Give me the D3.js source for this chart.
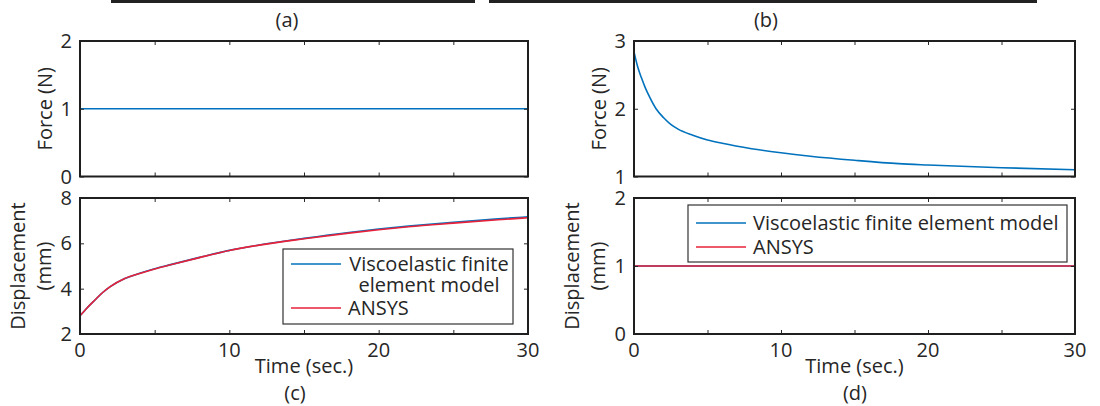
<!DOCTYPE html>
<html>
<head>
<meta charset="utf-8">
<script src="https://cdn.jsdelivr.net/npm/d3@7"></script>
<style>
  body { margin: 0; background: #fff; }
  svg text { font-family: "Open Sans", "Noto Sans", sans-serif; fill: #262626; }
</style>
</head>
<body>
<div id="chart"></div>
<script>
// ---- data ----
var timeConst = [0, 30];
var forceA = [1, 1];                 // (a) constant force
var dispD = [1, 1];                  // (d) constant displacement

var timeB = [0, 0.25, 0.5, 0.75, 1, 1.5, 2, 2.5, 3, 4, 5, 6, 8, 10, 12, 15, 18, 20, 25, 30];
var forceB = [2.84, 2.62, 2.46, 2.32, 2.2, 2.0, 1.87, 1.77, 1.70, 1.61, 1.54, 1.49, 1.41, 1.35, 1.30, 1.24, 1.19, 1.17, 1.13, 1.10];

var timeC = [0, 0.5, 1, 1.5, 2, 3, 4, 5, 6, 8, 10, 12, 15, 18, 20, 22, 25, 28, 30];
var dispC_fem = [2.8, 3.17, 3.5, 3.82, 4.08, 4.45, 4.68, 4.88, 5.05, 5.38, 5.69, 5.93, 6.22, 6.48, 6.63, 6.76, 6.93, 7.08, 7.17];
var dispC_ansys = [2.8, 3.17, 3.5, 3.82, 4.08, 4.45, 4.67, 4.87, 5.04, 5.37, 5.68, 5.92, 6.2, 6.45, 6.6, 6.73, 6.89, 7.04, 7.13];

var seriesNames = ["Viscoelastic finite element model", "ANSYS"];
var xTicks = [0, 10, 20, 30];
var xMinor = [0, 5, 10, 15, 20, 25, 30];

var blue = "#0072bd", red = "#e8213a";
var fontSize = "20px";

var svg = d3.select("#chart").append("svg")
    .attr("width", 1100)
    .attr("height", 406);

// black bars cut off at the very top of the figure
svg.append("rect").attr("x", 111).attr("y", 0).attr("width", 364).attr("height", 3).attr("fill", "#222");
svg.append("rect").attr("x", 489).attr("y", 0).attr("width", 548).attr("height", 3).attr("fill", "#222");

function zip(xs, ys) {
  return xs.map(function(x, i) { return [x, ys[i]]; });
}

function drawPanel(p) {
  var x = d3.scaleLinear().domain([0, 30]).range([p.left, p.right]);
  var y = d3.scaleLinear().domain(p.yDomain).range([p.bottom, p.top]);
  var g = svg.append("g");

  // lines
  var line = d3.line()
    .x(function(d) { return x(d[0]); })
    .y(function(d) { return y(d[1]); })
    .curve(d3.curveMonotoneX);
  p.series.forEach(function(s) {
    g.append("path")
      .datum(s.data)
      .attr("d", line)
      .attr("fill", "none")
      .attr("stroke", s.color)
      .attr("stroke-width", 1.6);
  });

  // inward tick marks on all four sides
  var tickLen = 4;
  function clean(a) { a.select(".domain").remove(); a.selectAll("line").attr("stroke", "#262626"); }
  g.append("g").attr("transform", "translate(0," + p.bottom + ")")
    .call(d3.axisTop(x).tickValues(xMinor).tickSize(tickLen).tickFormat("")).call(clean);
  g.append("g").attr("transform", "translate(0," + p.top + ")")
    .call(d3.axisBottom(x).tickValues(xMinor).tickSize(tickLen).tickFormat("")).call(clean);
  g.append("g").attr("transform", "translate(" + p.left + ",0)")
    .call(d3.axisRight(y).tickValues(p.yTicks).tickSize(tickLen).tickFormat("")).call(clean);
  g.append("g").attr("transform", "translate(" + p.right + ",0)")
    .call(d3.axisLeft(y).tickValues(p.yTicks).tickSize(tickLen).tickFormat("")).call(clean);

  // box
  g.append("rect")
    .attr("x", p.left).attr("y", p.top)
    .attr("width", p.right - p.left).attr("height", p.bottom - p.top)
    .attr("fill", "none").attr("stroke", "#1f1f1f").attr("stroke-width", 2);

  // y tick labels
  g.selectAll("text.ytick")
    .data(p.yTicks)
    .enter().append("text")
    .attr("class", "ytick")
    .attr("x", p.left - 8)
    .attr("y", function(d) { return y(d); })
    .attr("dy", "0.35em")
    .attr("text-anchor", "end")
    .style("font-size", fontSize)
    .text(function(d) { return d; });

  // x tick labels
  if (p.xLabels) {
    g.selectAll("text.xtick")
      .data(xTicks)
      .enter().append("text")
      .attr("class", "xtick")
      .attr("x", function(d) { return x(d); })
      .attr("y", p.bottom + 23)
      .attr("text-anchor", "middle")
      .style("font-size", fontSize)
      .text(function(d) { return d; });
    g.append("text")
      .attr("x", (p.left + p.right) / 2)
      .attr("y", p.bottom + 39)
      .attr("text-anchor", "middle")
      .style("font-size", fontSize)
      .text("Time (sec.)");
  }

  // y axis label (one or two lines)
  var cy = (p.top + p.bottom) / 2;
  p.yLabel.forEach(function(t, i) {
    var off = p.yLabel.length === 1 ? -28 : (i === 0 ? -55 : -29);
    g.append("text")
      .attr("transform", "translate(" + (p.left + off) + "," + cy + ") rotate(-90)")
      .attr("text-anchor", "middle")
      .style("font-size", fontSize)
      .text(t);
  });

  // panel tag
  g.append("text")
    .attr("x", p.tagX)
    .attr("y", p.tagY)
    .attr("text-anchor", "middle")
    .style("font-size", fontSize)
    .text(p.tag);

  // legend
  if (p.legend) {
    var L = p.legend;
    g.append("rect")
      .attr("x", L.x).attr("y", L.y).attr("width", L.w).attr("height", L.h)
      .attr("fill", "#fff").attr("stroke", "#333").attr("stroke-width", 1.2);
    L.rows.forEach(function(r, i) {
      g.append("line")
        .attr("x1", L.x + 8).attr("x2", L.x + 58)
        .attr("y1", r.y).attr("y2", r.y)
        .attr("stroke", p.series[i].color).attr("stroke-width", 1.6);
      r.lines.forEach(function(t, j) {
        g.append("text")
          .attr("x", r.anchor === "middle" ? L.textMid : L.x + 65)
          .attr("y", r.y + j * 21)
          .attr("dy", "0.35em")
          .attr("text-anchor", r.anchor || "start")
          .style("font-size", fontSize)
          .text(t);
      });
    });
  }
}

drawPanel({
  left: 80, right: 528, top: 41, bottom: 176.5,
  yDomain: [0, 2], yTicks: [0, 1, 2],
  series: [{ data: zip(timeConst, forceA), color: blue }],
  yLabel: ["Force (N)"], xLabels: false,
  tag: "(a)", tagX: 287, tagY: 27
});

drawPanel({
  left: 634, right: 1075, top: 41, bottom: 176.5,
  yDomain: [1, 3], yTicks: [1, 2, 3],
  series: [{ data: zip(timeB, forceB), color: blue }],
  yLabel: ["Force (N)"], xLabels: false,
  tag: "(b)", tagX: 766, tagY: 27
});

drawPanel({
  left: 80, right: 528, top: 198, bottom: 334,
  yDomain: [2, 8], yTicks: [2, 4, 6, 8],
  series: [
    { data: zip(timeC, dispC_fem), color: blue },
    { data: zip(timeC, dispC_ansys), color: red }
  ],
  yLabel: ["Displacement", "(mm)"], xLabels: true,
  tag: "(c)", tagX: 295, tagY: 400,
  legend: {
    x: 283, y: 249, w: 230, h: 75, textMid: 429,
    rows: [
      { y: 264, lines: ["Viscoelastic finite", "element model"], anchor: "middle" },
      { y: 308, lines: [seriesNames[1]] }
    ]
  }
});

drawPanel({
  left: 634, right: 1075, top: 198, bottom: 334,
  yDomain: [0, 2], yTicks: [0, 1, 2],
  series: [
    { data: zip(timeConst, dispD), color: blue },
    { data: zip(timeConst, dispD), color: red }
  ],
  yLabel: ["Displacement", "(mm)"], xLabels: true,
  tag: "(d)", tagX: 855, tagY: 400,
  legend: {
    x: 688, y: 205, w: 379, h: 57,
    rows: [
      { y: 223, lines: [seriesNames[0]] },
      { y: 247, lines: [seriesNames[1]] }
    ]
  }
});
</script>
</body>
</html>
